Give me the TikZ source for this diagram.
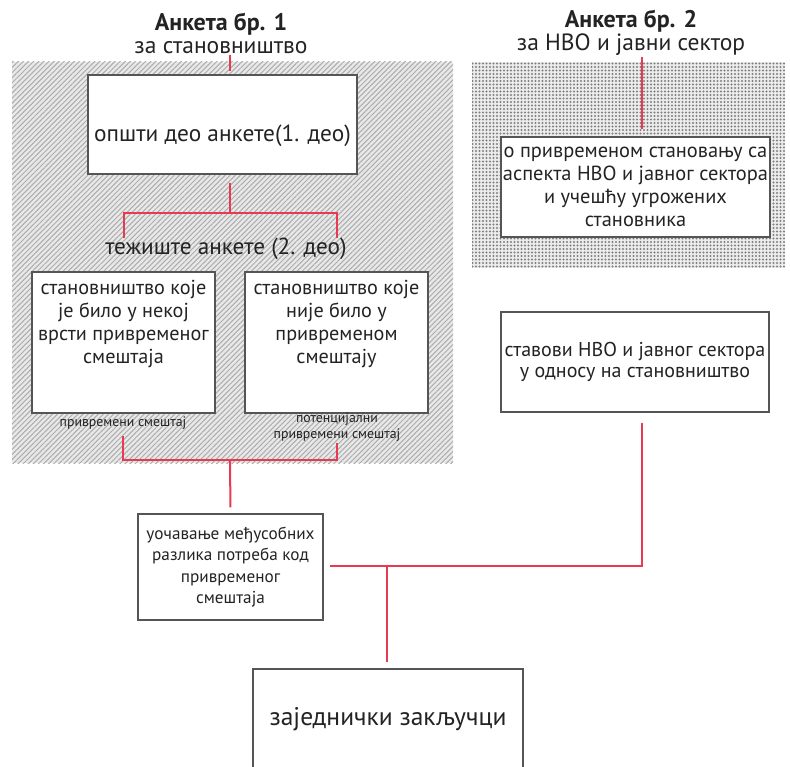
\documentclass[tikz,border=0pt]{standalone}
\usepackage{fontspec}
\setmainfont{PT Sans}
\usepackage{xcolor}
\usetikzlibrary{patterns,patterns.meta,positioning}
\definecolor{linkred}{RGB}{232,58,80}
\definecolor{boxgray}{RGB}{85,85,85}
\definecolor{txt}{RGB}{35,35,35}

\begin{document}
\begin{tikzpicture}[x=1pt,y=-1pt,
              redline/.style={line width=2pt, linkred},
              box/.style={draw=boxgray, line width=1.4pt, fill=white, inner sep=0pt, text=txt, align=center},
              boxtext/.style={text=txt, align=center, inner sep=0pt},
              note/.style={text=txt, align=center, inner sep=1pt, font=\fontsize{13.8}{16}\selectfont},
              title/.style={text=txt, align=center, inner sep=1pt, font=\fontsize{23.5}{23}\selectfont},
             ]
\clip (0,0) rectangle (790,767);
\fill[white] (0,0) rectangle (790,767);
\fill[gray!18] (12,62) rectangle (453,463);
\fill[pattern={Lines[angle=45,distance=3.6pt,line width=1pt]}, pattern color=gray!65] (12,62) rectangle (453,463);
\fill[gray!15] (472,62) rectangle (785,268);
\fill[pattern={Dots[distance=3.5pt,radius=1.1pt]}, pattern color=black!50] (472,62) rectangle (785,268);

\node[title] (t1) at (221,33) {{\fontsize{24}{23}\selectfont\bfseries Анкета бр. 1}\\за становништво};
\node[title] (t2) at (631,33) {{\fontsize{24}{23}\selectfont\bfseries Анкета бр. 2}\\за НВО и јавни сектор};

\node[box, minimum width=269, minimum height=99, text height=34pt, text depth=0pt,
      font=\fontsize{23.3}{27}\selectfont] (general) at (222.5,124.5) {општи део анкете(1. део)};
\node[boxtext, font=\fontsize{23.2}{27}\selectfont] (focus) at (226,249) {тежиште анкете (2. део)};

\node[box, minimum width=183, minimum height=141] (pop1) at (123.5,342.5) {};
\node[boxtext, font=\fontsize{20.2}{23}\selectfont, below=9pt of pop1.north] (pop1text)
     {становништво које\\је било у некој\\врсти привременог\\смештаја};
\node[box, minimum width=183, minimum height=141] (pop2) at (336.5,342.5) {};
\node[boxtext, font=\fontsize{20.2}{23}\selectfont, below=9pt of pop2.north] (pop2text)
     {становништво које\\није било у\\привременом\\смештају};
\node[note] (lab1) at (123,423) {привремени смештај};
\node[note] (lab2) at (337,427) {потенцијални\\привремени смештај};

\node[box, minimum width=269, minimum height=100, font=\fontsize{20.4}{23}\selectfont] (ngo) at (635.5,187)
     {о привременом становању са\\аспекта НВО и јавног сектора\\и учешћу угрожених\\становника};
\node[box, minimum width=268, minimum height=100, font=\fontsize{20}{21.5}\selectfont] (views) at (635,362)
     {ставови НВО и јавног сектора\\у односу на становништво};

\node[box, minimum width=185, minimum height=106, font=\fontsize{17.2}{21.5}\selectfont] (compare) at (230.5,567)
     {уочавање међусобних\\разлика потреба код\\привременог\\смештаја};
\node[box, minimum width=270, minimum height=100, font=\fontsize{25.5}{28}\selectfont] (common) at (388,719)
     {заједнички закључци};

\coordinate (j1) at (230,213);
\coordinate (j2) at (230,460);
\coordinate (j3) at (387,566);
\coordinate (j4) at (642,566);

\draw[redline, shorten >=3pt] (t1.south -| j1) -- (general.north -| j1);
\draw[redline, shorten <=8pt] (general.south -| j1) -- (j1);
\draw[redline] (focus.north -| pop1) |- (j1) -| (focus.north -| pop2);
\draw[redline, shorten <=5pt] (lab1.south) |- (j2) -| (lab2.south);
\draw[redline, shorten >=6pt] (j2) -- (compare.north);
\draw[redline, shorten >=7pt] (t2.south -| j4) -- (ngo.north -| j4);
\draw[redline, shorten <=10pt, shorten >=6pt] (views.south -| j4) -- (j4) -- (compare.east |- j4);
\draw[redline, shorten >=6pt] (j3) -- (j3 |- common.north);
\end{tikzpicture}
\end{document}
